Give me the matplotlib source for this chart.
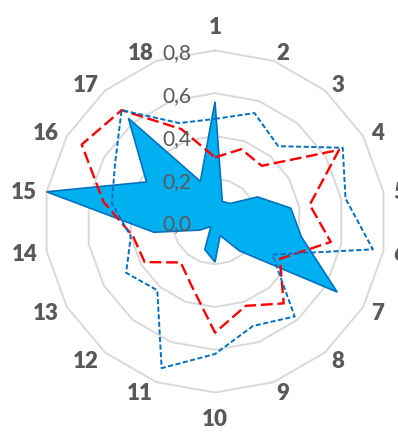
import numpy as np
import matplotlib.pyplot as plt
from matplotlib.transforms import offset_copy

# categories around the radar, clockwise from the top
categories = [str(i) for i in range(1, 19)]

# series values
series_fill = [0.56, 0.10, 0.11, 0.23, 0.36, 0.41, 0.66, 0.18, 0.07,
               0.19, 0.14, 0.03, 0.08, 0.29, 0.80, 0.37, 0.63, 0.20]
series_red = [0.30, 0.36, 0.34, 0.67, 0.45, 0.55, 0.35, 0.50, 0.42,
              0.52, 0.32, 0.25, 0.38, 0.39, 0.53, 0.72, 0.68, 0.46]
series_blue = [0.48, 0.54, 0.46, 0.69, 0.62, 0.75, 0.31, 0.58, 0.52,
               0.62, 0.73, 0.42, 0.48, 0.40, 0.49, 0.54, 0.68, 0.49]

# radial axis
ring_ticks = [0.0, 0.2, 0.4, 0.6, 0.8]
ring_labels = ["0,0", "0,2", "0,4", "0,6", "0,8"]

text_col = "#595959"
grid_col = "#D9D9D9"

fig = plt.figure(figsize=(3.98, 4.34), dpi=100)
ax = fig.add_axes([44 / 398, 41.5 / 434, 342 / 398, 342 / 434], projection="polar")
ax.set_theta_zero_location("N")
ax.set_theta_direction(-1)
ax.set_ylim(0, ring_ticks[-1])
ax.set_xticks([])
ax.set_yticks([])
ax.grid(False)
ax.spines["polar"].set_visible(False)

theta = np.linspace(0, 2 * np.pi, len(categories), endpoint=False)
theta_c = np.append(theta, theta[0])

def closed(vals):
    return np.append(vals, vals[0])

# polygon gridlines
for r in ring_ticks[1:]:
    ax.plot(theta_c, [r] * len(theta_c), color=grid_col, lw=1.4, zorder=1, clip_on=False)

# series
ax.fill(theta_c, closed(series_fill), facecolor="#00B0F0", edgecolor="#0070C0",
        lw=1.2, zorder=2, clip_on=False)
ax.plot(theta_c, closed(series_red), color="#FF0000", lw=1.7,
        dashes=(5, 2), zorder=3, clip_on=False)
ax.plot(theta_c, closed(series_blue), color="#0070C0", lw=1.4,
        dashes=(2.6, 1.3), zorder=4, clip_on=False)

# radial tick labels along the vertical axis
tr = offset_copy(ax.transData, fig=fig, x=-24, y=-1, units="dots")
for r, lab in zip(ring_ticks, ring_labels):
    ax.text(0, r, lab, transform=tr, ha="right", va="center_baseline", fontsize=15,
            color=text_col, family="Lato", zorder=5)

# category labels outside the outer ring
R_px = 171.0
for t, lab in zip(theta, categories):
    s = np.sin(t)
    if abs(s) < 1e-6:
        r_px, ha = 196.5, "center"
    else:
        r_px, ha = 180.5, ("left" if s > 0 else "right")
    ax.text(t, r_px / R_px * ring_ticks[-1], lab, ha=ha, va="center_baseline",
            fontsize=16, fontweight="heavy", color=text_col, family="Lato")

fig.savefig("out.png", dpi=100)
